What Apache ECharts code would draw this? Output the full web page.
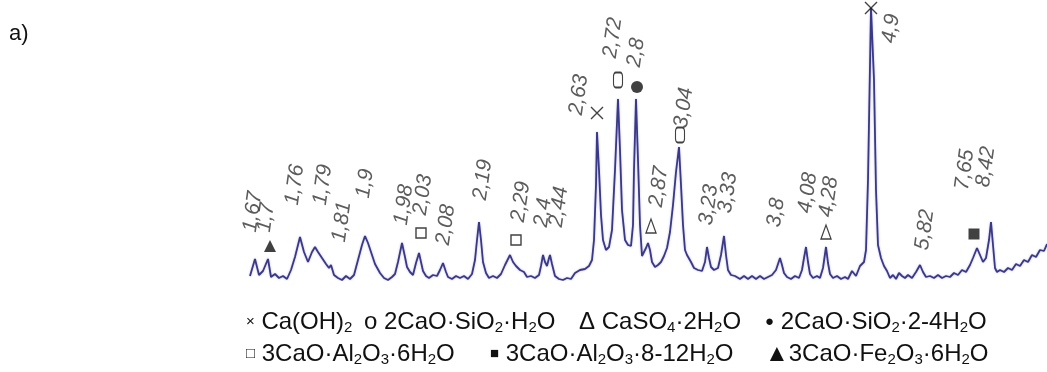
<!DOCTYPE html>
<html><head><meta charset="utf-8">
<script src="https://cdn.jsdelivr.net/npm/echarts@6/dist/echarts.min.js"></script>
<style>html,body{margin:0;padding:0;background:#fff}#c{width:1047px;height:372px}</style>
</head><body><div id="c"></div>
<script>
// XRD pattern: scan position (arbitrary units) and intensity (arbitrary units)
const scanPos = [3,8,12,16,21,24,28,32,36,40,44,48,53,57,61,65,68,71,75,79,82,84,87,91,95,99,103,107,111,115,118,121,124,128,133,137,141,145,148,151,155,158,160,163,166,169,172,174,176,179,182,186,190,193,196,199,201,205,209,213,217,221,225,228,230,232,234,236,239,242,246,250,254,258,263,266,269,273,277,280,284,288,292,294,296,298,300,302,303,305,308,312,316,320,324,328,333,338,342,345,347,349,350,352,354,356,359,362,365,368,371,373,375,378,381,384,386,387,389,391,393,395,397,399,401,403,405,408,411,414,417,420,423,426,429,432,434,436,438,440,442,444,447,451,455,458,460,462,464,467,471,474,477,479,481,484,488,493,497,501,505,509,513,517,521,525,529,533,535,537,540,544,548,552,555,557,559,561,563,566,570,573,576,579,581,583,586,590,594,598,601,605,609,613,617,619,621,624,627,629,631,634,637,640,643,646,649,652,655,658,661,665,669,673,676,679,683,687,691,695,699,703,707,711,715,719,723,726,730,733,736,739,742,744,746,748,750,753,757,761,765,769,773,777,781,785,789,793,797,800];
const intensity = [4,21,5,9,21,3,6,2,4,1,10,23,43,28,18,28,33,28,22,16,12,15,5,2,0,4,1,5,20,35,44,37,28,16,7,2,0,3,6,18,37,23,13,8,5,17,27,18,9,4,2,5,4,10,17,8,3,1,4,2,4,1,6,20,40,58,40,18,7,2,4,2,6,15,25,18,14,10,8,3,4,2,5,14,25,18,14,22,25,16,4,1,0,2,1,7,10,11,14,20,40,95,148,110,65,40,30,33,50,110,181,130,70,40,35,34,55,110,181,120,55,24,25,32,37,30,18,13,15,18,24,32,48,75,108,133,95,55,30,25,27,18,12,10,9,18,33,22,13,10,12,25,44,25,10,5,4,1,4,1,4,1,4,1,3,5,10,22,15,7,3,1,4,2,10,22,33,18,6,2,4,2,12,33,17,6,2,4,1,3,1,9,4,14,18,30,100,272,200,90,35,22,14,9,2,5,1,7,4,2,5,2,8,15,8,3,4,2,5,2,4,3,7,5,10,8,15,22,32,25,18,22,40,58,35,12,8,10,8,12,10,16,14,20,18,25,23,30,29,36];

// peak d-spacing labels (Å) and where each label starts
const peakLabels = ['1,67','1,7','1,76','1,79','1,81','1,9','1,98','2,03','2,08','2,19','2,29','2,4','2,44','2,63','2,72','2,8','2,87','3,04','3,23','3,33','3,8','4,08','4,28','4,9','5,82','7,65','8,42'];
const labelPos  = [3,17,45,73,92,116,154,173,196,233,271,294,309,329,363,387,409,434,459,478,527,558,579,642,675,715,736];
const labelBase = [48,48,75,75,38,82,55,65,35,80,58,53,53,165,222,213,73,152,55,67,53,67,63,237,30,90,93];

// phase markers [position, height]
const phaseCaOH2   = [[350,167],[624,272]];
const phaseC2SH    = [[371,200],[433,145]];
const phaseGypsum  = [[404,54],[579,48]];
const phaseC2SH24  = [[390,193]];
const phaseC3AH6   = [[174,47],[269,40]];
const phaseC3AH812 = [[727,46]];
const phaseC3FH6   = [[23,34]];

const chart = echarts.init(document.getElementById('c'));
const FONT = 'Liberation Sans, Arial, sans-serif';
const ink = '#111';

function markerSeries(data, symbol, size, filled) {
  return {
    type: 'scatter', data: data, symbol: symbol, symbolSize: size, z: 5,
    itemStyle: filled ? {color: ink} : {color: '#fff', borderColor: ink, borderWidth: 1.4},
    silent: true, animation: false
  };
}

const rich = {
  n: {fontSize: 24, fontFamily: FONT, color: '#111', lineHeight: 30},
  s: {fontSize: 15, fontFamily: FONT, color: '#111', lineHeight: 30, padding: [12,0,0,0]},
  m: {fontSize: 15, fontFamily: FONT, color: '#111', lineHeight: 30}
};
function legendText(x, y, str) {
  return {type: 'text', x: x, y: y, style: {text: str, rich: rich, fill: '#111', verticalAlign: 'middle'}};
}

chart.setOption({
  animation: false,
  grid: {left: 247, right: 0, top: 0, bottom: 92},
  xAxis: {type: 'value', min: 0, max: 800, show: false},
  yAxis: {type: 'value', min: 0, max: 280, show: false},
  series: [
    {
      type: 'line', data: scanPos.map((p, i) => [p, intensity[i]]),
      showSymbol: false, smooth: false,
      lineStyle: {color: '#3a3888', width: 1.8, shadowColor: 'rgba(110,110,200,0.5)', shadowBlur: 2}, z: 3
    },
    {
      type: 'scatter', symbolSize: 1, itemStyle: {color: 'rgba(0,0,0,0)'},
      data: labelPos.map((p, i) => [p, labelBase[i], peakLabels[i]]),
      label: {
        show: true, position: 'inside', formatter: p => p.value[2],
        rotate: 82, align: 'left', verticalAlign: 'middle',
        fontSize: 21, fontStyle: 'italic', fontFamily: FONT, color: '#333'
      }, z: 4
    },
    markerSeries(phaseCaOH2, 'path://M0,0L10,10M10,0L0,10', 12, false),
    markerSeries(phaseC2SH, 'roundRect', [9, 15], false),
    markerSeries(phaseGypsum, 'triangle', [10, 14], false),
    markerSeries(phaseC2SH24, 'circle', 12, true),
    markerSeries(phaseC3AH6, 'rect', 10, false),
    markerSeries(phaseC3AH812, 'rect', 11, true),
    markerSeries(phaseC3FH6, 'triangle', 12, true)
  ],
  graphic: [
    {type: 'text', x: 9, y: 34, style: {text: 'a)', font: '22px ' + FONT, fill: '#111', verticalAlign: 'middle'}},
    legendText(246, 322, '{m|×}{n| Ca(OH)}{s|2}'),
    legendText(364, 322, '{n|o 2CaO·SiO}{s|2}{n|·H}{s|2}{n|O}'),
    legendText(579, 322, '{n|Δ CaSO}{s|4}{n|·2H}{s|2}{n|O}'),
    legendText(765, 322, '{m|●}{n| 2CaO·SiO}{s|2}{n|·2-4H}{s|2}{n|O}'),
    legendText(246, 354, '{m|□}{n| 3CaO·Al}{s|2}{n|O}{s|3}{n|·6H}{s|2}{n|O}'),
    legendText(490, 354, '{m|■}{n| 3CaO·Al}{s|2}{n|O}{s|3}{n|·8-12H}{s|2}{n|O}'),
    legendText(765, 354, '{n|▲3CaO·Fe}{s|2}{n|O}{s|3}{n|·6H}{s|2}{n|O}')
  ]
});
</script></body></html>
